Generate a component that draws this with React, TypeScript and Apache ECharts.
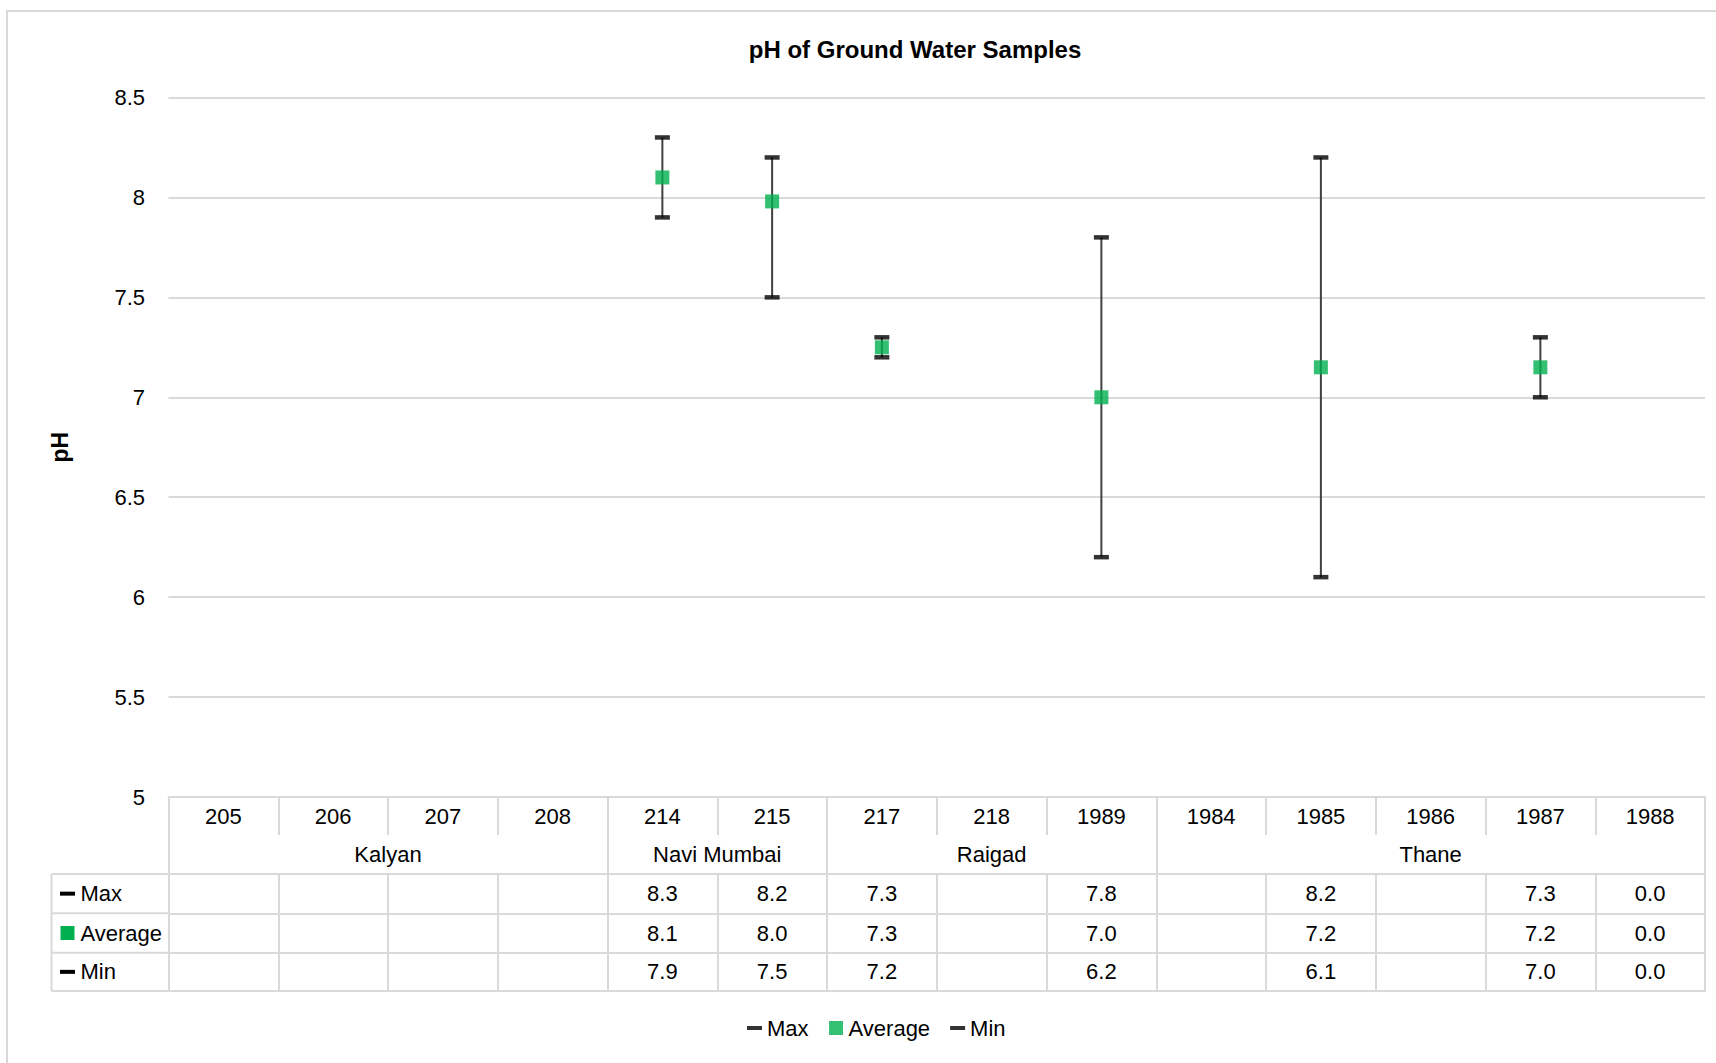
import React, { useEffect, useRef } from 'react';
import * as echarts from 'echarts';

// ---------------- data ----------------
const chartTitle = 'pH of Ground Water Samples';
const yAxisTitle = 'pH';
const sampleIds = ['205', '206', '207', '208', '214', '215', '217', '218', '1989', '1984', '1985', '1986', '1987', '1988'];
const groupNames = ['Kalyan', 'Navi Mumbai', 'Raigad', 'Thane'];
const groupSizes = [4, 2, 3, 5];
const seriesNames = ['Max', 'Average', 'Min'];
const maxValues: (number | null)[] = [null, null, null, null, 8.3, 8.2, 7.3, null, 7.8, null, 8.2, null, 7.3, 0.0];
const averageValues: (number | null)[] = [null, null, null, null, 8.1, 7.98, 7.25, null, 7.0, null, 7.15, null, 7.15, 0.0];
const minValues: (number | null)[] = [null, null, null, null, 7.9, 7.5, 7.2, null, 6.2, null, 6.1, null, 7.0, 0.0];
const yMin = 5;
const yMax = 8.5;
const yInterval = 0.5;

// ---------------- styles / layout ----------------
const W = 1716;
const H = 1063;
const GRID_LEFT = 168.5;
const GRID_RIGHT = 1705;
const PLOT_TOP = 97.5;
const PLOT_BOTTOM = 797;
const ROW_LINES = [797, 835, 874, 913.3, 952.7, 991];
const TABLE_LEFT = 51.5;
const LINE_COLOR = '#d9d9d9';
const GREEN = '#00b050';
const TEXT = '#000000';

function fontAvailable(name: string): boolean {
  try {
    const ctx = document.createElement('canvas').getContext('2d');
    if (!ctx) return false;
    const sample = 'Average 1989 Navi Mumbai';
    ctx.font = '26px monospace';
    const a = ctx.measureText(sample).width;
    ctx.font = `26px '${name}', monospace`;
    const b = ctx.measureText(sample).width;
    return Math.abs(a - b) > 0.5;
  } catch (e) {
    return false;
  }
}

const fmt = (v: number | null) => (v == null ? '' : v.toFixed(1));

export default function App() {
  const ref = useRef<HTMLDivElement>(null);

  useEffect(() => {
    if (!ref.current) return;
    const narrow = fontAvailable('Liberation Sans Narrow');
    const FF = narrow
      ? "'Liberation Sans Narrow', 'Arial Narrow', sans-serif"
      : "'Liberation Sans', Arial, sans-serif";
    const FS = narrow ? 26 : 22;
    const TITLE_FS = narrow ? 28 : 24;

    const chart = echarts.init(ref.current, null, { renderer: 'svg' });

    // group row slots (half-category resolution)
    const nSlots = sampleIds.length * 2 + 1;
    const groupSlotLabels: string[] = new Array(nSlots).fill('');
    const groupBoundaries = new Set<number>([0]);
    let start = 0;
    groupNames.forEach((g, k) => {
      groupSlotLabels[2 * start + groupSizes[k]] = g;
      start += groupSizes[k];
      groupBoundaries.add(2 * start);
    });
    const groupSlotKeys = groupSlotLabels.map((_, i) => 's' + i);

    const rowCenter = (k: number) => (ROW_LINES[k] + ROW_LINES[k + 1]) / 2;
    const marginFor = (k: number) => rowCenter(k) - ROW_LINES[k] - FS / 2;

    const baseLabel = { color: TEXT, fontFamily: FF, fontSize: FS, interval: 0 };
    const lineStyle = { color: LINE_COLOR, width: 2 };

    const rowAxis = (k: number, values: (number | null)[]) => ({
      type: 'category',
      gridIndex: 0,
      position: 'bottom',
      offset: ROW_LINES[k] - PLOT_BOTTOM,
      data: sampleIds,
      axisLine: { show: true, lineStyle },
      axisTick: { show: true, interval: 0, length: ROW_LINES[k + 1] - ROW_LINES[k], lineStyle },
      axisLabel: {
        ...baseLabel,
        margin: marginFor(k),
        formatter: (_v: string, i: number) => fmt(values[i]),
      },
      splitLine: { show: false },
    });

    const xAxes: any[] = [
      {
        type: 'category',
        gridIndex: 0,
        position: 'bottom',
        data: sampleIds,
        axisLine: { show: true, lineStyle },
        axisTick: { show: true, interval: 0, length: ROW_LINES[1] - ROW_LINES[0], lineStyle },
        axisLabel: { ...baseLabel, margin: marginFor(0) },
        splitLine: { show: false },
      },
      {
        type: 'category',
        gridIndex: 0,
        position: 'bottom',
        offset: ROW_LINES[1] - PLOT_BOTTOM,
        boundaryGap: false,
        data: groupSlotKeys,
        axisLine: { show: false },
        axisTick: {
          show: true,
          interval: (index: number) => groupBoundaries.has(index),
          length: ROW_LINES[2] - ROW_LINES[1],
          lineStyle,
        },
        axisLabel: {
          ...baseLabel,
          margin: marginFor(1),
          formatter: (_v: string, i: number) => groupSlotLabels[i],
        },
        splitLine: { show: false },
      },
      rowAxis(2, maxValues),
      rowAxis(3, averageValues),
      rowAxis(4, minValues),
      {
        type: 'category',
        gridIndex: 0,
        position: 'bottom',
        offset: ROW_LINES[5] - PLOT_BOTTOM,
        data: sampleIds,
        axisLine: { show: true, lineStyle },
        axisTick: { show: false },
        axisLabel: { show: false },
        splitLine: { show: false },
      },
    ];

    const highLowData = sampleIds
      .map((_, i) => [i, minValues[i], maxValues[i]])
      .filter((d) => d[1] != null && d[2] != null);

    // left column of the data table (legend keys)
    const keyGraphics: any[] = [];
    [2, 3, 4, 5].forEach((k) => {
      keyGraphics.push({
        type: 'line',
        silent: true,
        shape: { x1: TABLE_LEFT, y1: ROW_LINES[k], x2: GRID_LEFT, y2: ROW_LINES[k] },
        style: { stroke: LINE_COLOR, lineWidth: 2 },
      });
    });
    keyGraphics.push({
      type: 'line',
      silent: true,
      shape: { x1: TABLE_LEFT, y1: ROW_LINES[2], x2: TABLE_LEFT, y2: ROW_LINES[5] },
      style: { stroke: LINE_COLOR, lineWidth: 2 },
    });
    seriesNames.forEach((name, j) => {
      const cy = rowCenter(2 + j);
      if (name === 'Average') {
        keyGraphics.push({
          type: 'rect',
          silent: true,
          shape: { x: 60.5, y: cy - 7, width: 14, height: 14 },
          style: { fill: GREEN },
        });
      } else {
        keyGraphics.push({
          type: 'rect',
          silent: true,
          shape: { x: 60, y: cy - 2, width: 15, height: 4 },
          style: { fill: '#000' },
        });
      }
      keyGraphics.push({
        type: 'text',
        silent: true,
        x: 80.5,
        y: cy,
        style: { text: name, fill: TEXT, font: `${FS}px ${FF}`, align: 'left', verticalAlign: 'middle' },
      });
    });

    const option: any = {
      animation: false,
      backgroundColor: '#ffffff',
      grid: {
        left: GRID_LEFT,
        right: W - GRID_RIGHT,
        top: PLOT_TOP,
        bottom: H - PLOT_BOTTOM,
        containLabel: false,
        outerBoundsMode: 'none',
      },
      xAxis: xAxes,
      yAxis: {
        type: 'value',
        min: yMin,
        max: yMax,
        interval: yInterval,
        name: yAxisTitle,
        nameLocation: 'middle',
        nameRotate: 90,
        nameGap: GRID_LEFT - 71,
        nameTextStyle: { color: TEXT, fontFamily: FF, fontSize: FS + 1, fontWeight: 'bold' },
        axisLine: { show: false },
        axisTick: { show: false },
        axisLabel: { color: TEXT, fontFamily: FF, fontSize: FS, margin: 23.5 },
        splitLine: { show: true, lineStyle: { color: LINE_COLOR, width: 2 } },
      },
      legend: {
        data: [
          { name: 'Max', icon: 'path://M0,0M15,15M0,5.5L15,5.5L15,9.5L0,9.5Z' },
          { name: 'Average', icon: 'path://M0,0M15,15M0.5,0.5L14.5,0.5L14.5,14.5L0.5,14.5Z' },
          { name: 'Min', icon: 'path://M0,0M15,15M0,5.5L15,5.5L15,9.5L0,9.5Z' },
        ],
        left: 747,
        top: 1028 - FS / 2,
        padding: 0,
        itemWidth: 15,
        itemHeight: 15,
        itemGap: 20,
        textStyle: { color: TEXT, fontFamily: FF, fontSize: FS },
        selectedMode: false,
      },
      graphic: [
        {
          type: 'rect',
          silent: true,
          z: -10,
          shape: { x: 7, y: 11, width: 1800, height: 1100 },
          style: { fill: 'none', stroke: LINE_COLOR, lineWidth: 2 },
        },
        {
          type: 'text',
          silent: true,
          x: 915,
          y: 49,
          style: {
            text: chartTitle,
            fill: TEXT,
            font: `bold ${TITLE_FS}px ${FF}`,
            align: 'center',
            verticalAlign: 'middle',
          },
        },
        ...keyGraphics,
      ],
      series: [
        {
          name: 'High-Low',
          type: 'custom',
          xAxisIndex: 0,
          yAxisIndex: 0,
          clip: true,
          z: 2,
          encode: { x: 0, y: [1, 2] },
          data: highLowData,
          renderItem: (_params: any, api: any) => {
            const x = api.value(0);
            const lo = api.coord([x, api.value(1)]);
            const hi = api.coord([x, api.value(2)]);
            return {
              type: 'line',
              shape: { x1: lo[0], y1: lo[1], x2: hi[0], y2: hi[1] },
              style: { stroke: '#404040', lineWidth: 2 },
            };
          },
        },
        {
          name: 'Max',
          type: 'scatter',
          xAxisIndex: 0,
          yAxisIndex: 0,
          clip: true,
          z: 3,
          symbol: 'rect',
          symbolSize: [15, 4.5],
          itemStyle: { color: '#000000' },
          data: maxValues,
        },
        {
          name: 'Min',
          type: 'scatter',
          xAxisIndex: 0,
          yAxisIndex: 0,
          clip: true,
          z: 3,
          symbol: 'rect',
          symbolSize: [15, 4.5],
          itemStyle: { color: '#000000' },
          data: minValues,
        },
        {
          name: 'Average',
          type: 'scatter',
          xAxisIndex: 0,
          yAxisIndex: 0,
          clip: true,
          z: 4,
          symbol: 'rect',
          symbolSize: 14,
          itemStyle: { color: GREEN },
          data: averageValues,
        },
      ],
    };

    chart.setOption(option);
    return () => chart.dispose();
  }, []);

  return (
    <div
      ref={ref}
      style={{ position: 'fixed', left: 0, top: 0, width: W, height: H, background: '#ffffff' }}
    />
  );
}
